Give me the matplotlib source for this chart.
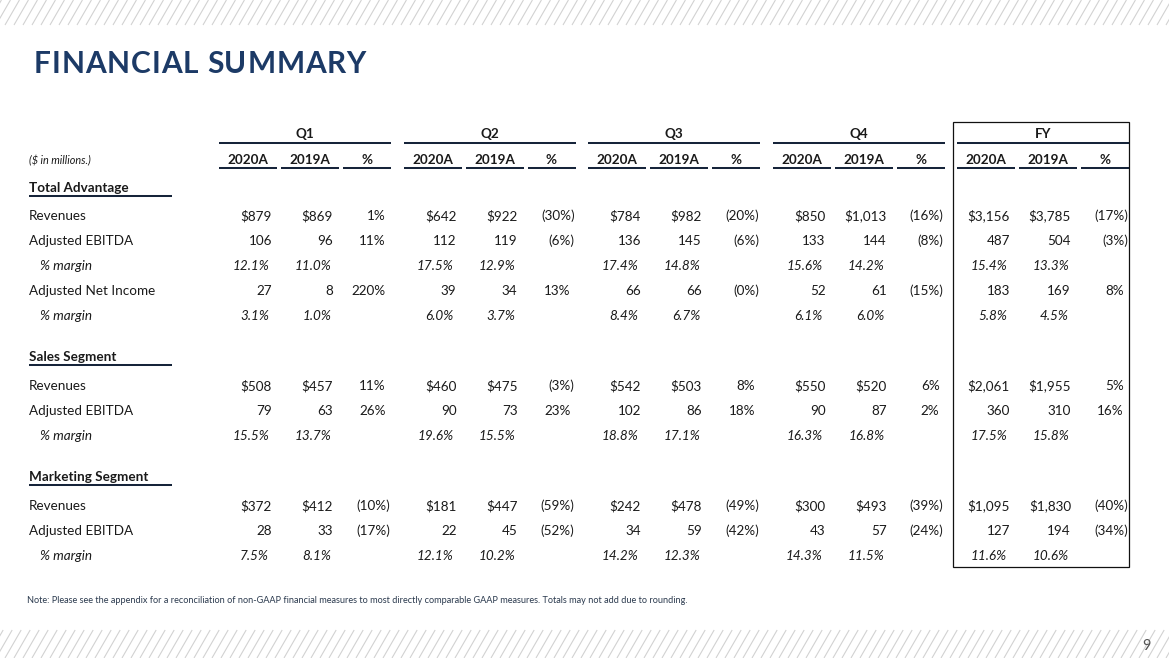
import numpy as np
import matplotlib
matplotlib.use("Agg")
import matplotlib.pyplot as plt
from matplotlib.patches import Rectangle
from matplotlib.collections import LineCollection

# ---------------- data ----------------
periods = ["Q1", "Q2", "Q3", "Q4", "FY"]
sub_headers = ["2020A", "2019A", "%"]

ta_rev_2020 = [879, 642, 784, 850, 3156]
ta_rev_2019 = [869, 922, 982, 1013, 3785]
ta_rev_pct = [1, -30, -20, -16, -17]
ta_ebitda_2020 = [106, 112, 136, 133, 487]
ta_ebitda_2019 = [96, 119, 145, 144, 504]
ta_ebitda_pct = [11, -6, -6, -8, -3]
ta_ebitda_margin_2020 = [12.1, 17.5, 17.4, 15.6, 15.4]
ta_ebitda_margin_2019 = [11.0, 12.9, 14.8, 14.2, 13.3]
ta_ani_2020 = [27, 39, 66, 52, 183]
ta_ani_2019 = [8, 34, 66, 61, 169]
ta_ani_pct = [220, 13, -0.0, -15, 8]
ta_ani_margin_2020 = [3.1, 6.0, 8.4, 6.1, 5.8]
ta_ani_margin_2019 = [1.0, 3.7, 6.7, 6.0, 4.5]

ss_rev_2020 = [508, 460, 542, 550, 2061]
ss_rev_2019 = [457, 475, 503, 520, 1955]
ss_rev_pct = [11, -3, 8, 6, 5]
ss_ebitda_2020 = [79, 90, 102, 90, 360]
ss_ebitda_2019 = [63, 73, 86, 87, 310]
ss_ebitda_pct = [26, 23, 18, 2, 16]
ss_margin_2020 = [15.5, 19.6, 18.8, 16.3, 17.5]
ss_margin_2019 = [13.7, 15.5, 17.1, 16.8, 15.8]

ms_rev_2020 = [372, 181, 242, 300, 1095]
ms_rev_2019 = [412, 447, 478, 493, 1830]
ms_rev_pct = [-10, -59, -49, -39, -40]
ms_ebitda_2020 = [28, 22, 34, 43, 127]
ms_ebitda_2019 = [33, 45, 59, 57, 194]
ms_ebitda_pct = [-17, -52, -42, -24, -34]
ms_margin_2020 = [7.5, 12.1, 14.2, 14.3, 11.6]
ms_margin_2019 = [8.1, 10.2, 12.3, 11.5, 10.6]

title = "FINANCIAL SUMMARY"
unit_note = "($ in millions.)"
footnote = ("Note: Please see the appendix for a reconciliation of non-GAAP financial measures "
            "to most directly comparable GAAP measures. Totals may not add due to rounding.")
page_number = "9"

# ---------------- formatting ----------------
def fmt_money(v):
    return f"${v:,}"

def fmt_num(v):
    return f"{v:,}"

def fmt_pct(v):
    if v < 0 or np.signbit(v):
        return f"({abs(v):.0f}%)"
    return f"{v:.0f}%"

def fmt_margin(v):
    return f"{v:.1f}%"

# rows: (kind, label, data)
rows = [
    ("section", "Total Advantage", None),
    ("value", "Revenues", (ta_rev_2020, ta_rev_2019, ta_rev_pct, fmt_money)),
    ("value", "Adjusted EBITDA", (ta_ebitda_2020, ta_ebitda_2019, ta_ebitda_pct, fmt_num)),
    ("margin", "% margin", (ta_ebitda_margin_2020, ta_ebitda_margin_2019)),
    ("value", "Adjusted Net Income", (ta_ani_2020, ta_ani_2019, ta_ani_pct, fmt_num)),
    ("margin", "% margin", (ta_ani_margin_2020, ta_ani_margin_2019)),
    ("section", "Sales Segment", None),
    ("value", "Revenues", (ss_rev_2020, ss_rev_2019, ss_rev_pct, fmt_money)),
    ("value", "Adjusted EBITDA", (ss_ebitda_2020, ss_ebitda_2019, ss_ebitda_pct, fmt_num)),
    ("margin", "% margin", (ss_margin_2020, ss_margin_2019)),
    ("section", "Marketing Segment", None),
    ("value", "Revenues", (ms_rev_2020, ms_rev_2019, ms_rev_pct, fmt_money)),
    ("value", "Adjusted EBITDA", (ms_ebitda_2020, ms_ebitda_2019, ms_ebitda_pct, fmt_num)),
    ("margin", "% margin", (ms_margin_2020, ms_margin_2019)),
]
row_y = [187, 215, 240, 265, 290, 315, 356, 385, 410, 435, 476, 505, 530, 555]

# ---------------- figure ----------------
W, H = 1169, 658
fig = plt.figure(figsize=(W / 100, H / 100), dpi=100)
ax = fig.add_axes([0, 0, 1, 1])
ax.set_xlim(0, W)
ax.set_ylim(H, 0)
ax.axis("off")

FONT = "Lato"
TXT = "#1a1a1a"
LINE = "#16243a"
NAVY = "#1c3a66"
LW = 1.45
DY = 1.2  # visual centring offset for text

# hatched bands
def band(y0, y1):
    step = 9.0
    dx = (y1 - y0) / np.tan(np.radians(60))
    segs = [[(x, y1), (x + dx, y0)] for x in np.arange(-40, W + 40, step)]
    lc = LineCollection(segs, colors="#d2d2d2", linewidths=0.8)
    lc.set_clip_path(Rectangle((0, y0), W, y1 - y0, transform=ax.transData))
    ax.add_collection(lc)

band(0, 25)
band(630, H)

# title with letter spacing
renderer = fig.canvas.get_renderer()
tsize = 21.5
def text_w(s):
    t = ax.text(0, 0, s + "I", fontsize=tsize, fontweight="bold", family=FONT)
    w = t.get_window_extent(renderer).width
    t.remove()
    t = ax.text(0, 0, "I", fontsize=tsize, fontweight="bold", family=FONT)
    w -= t.get_window_extent(renderer).width
    t.remove()
    return w
total = text_w(title)
target = 332
extra = (target - total) / (len(title) - 1)
x0 = 34
for i, ch in enumerate(title):
    if ch == " ":
        continue
    xi = x0 + text_w(title[:i]) + i * extra
    ax.text(xi, 64, ch, fontsize=tsize, fontweight="bold", family=FONT,
            color=NAVY, ha="left", va="center")

# column geometry
block_start = [219 + i * 184.5 for i in range(len(periods))]
BW = 172
sub_spans = [(0, 58), (62, 120), (124, 172)]

y_head, y_head_line = 133, 143
y_sub, y_sub_line = 159, 168

for b, p in zip(block_start, periods):
    ax.text(b + BW / 2, y_head + DY, p, ha="center", va="center", fontsize=9.7,
            fontweight="bold", family=FONT, color=TXT)
    ax.plot([b, b + BW], [y_head_line, y_head_line], color=LINE, lw=LW,
            solid_capstyle="butt")
    for (s0, s1), sh in zip(sub_spans, sub_headers):
        ax.text(b + (s0 + s1) / 2, y_sub + DY, sh, ha="center", va="center",
                fontsize=9.7, fontweight="bold", family=FONT, color=TXT)
        ax.plot([b + s0, b + s1], [y_sub_line, y_sub_line], color=LINE, lw=LW,
                solid_capstyle="butt")

ax.text(29, y_sub + DY, unit_note, ha="left", va="center", fontsize=7.8,
        style="italic", family=FONT, color=TXT)

# FY box
ax.add_patch(Rectangle((953, 122), 1129 - 953, 567 - 122, fill=False,
                       edgecolor="#111111", lw=0.9))

FS = 9.7
for (kind, label, data), y in zip(rows, row_y):
    yt = y + DY
    if kind == "section":
        ax.text(29, yt, label, ha="left", va="center", fontsize=FS,
                fontweight="bold", family=FONT, color=TXT)
        ax.plot([29, 172], [y + 9, y + 9], color=LINE, lw=LW, solid_capstyle="butt")
        continue
    if kind == "value":
        ax.text(29, yt, label, ha="left", va="center", fontsize=FS,
                family=FONT, color=TXT)
        v20, v19, pc, f = data
        for b, a, c, d in zip(block_start, v20, v19, pc):
            ax.text(b + 53, yt, f(a), ha="right", va="center", fontsize=FS,
                    family=FONT, color=TXT)
            ax.text(b + 114, yt, f(c), ha="right", va="center", fontsize=FS,
                    family=FONT, color=TXT)
            s = fmt_pct(d)
            xr = b + 171 if s.startswith("(") else b + 167
            ax.text(xr, yt, s, ha="right", va="center", fontsize=FS,
                    family=FONT, color=TXT)
    else:
        ax.text(40, yt, label, ha="left", va="center", fontsize=FS,
                style="italic", family=FONT, color=TXT)
        m20, m19 = data
        for b, a, c in zip(block_start, m20, m19):
            ax.text(b + 50, yt, fmt_margin(a), ha="right", va="center",
                    fontsize=FS, style="italic", family=FONT, color=TXT)
            ax.text(b + 112, yt, fmt_margin(c), ha="right", va="center",
                    fontsize=FS, style="italic", family=FONT, color=TXT)

ax.text(27, 599 + DY, footnote, ha="left", va="center", fontsize=6.55,
        family=FONT, color="#2b3a4e")
ax.text(1146, 646, page_number, ha="center", va="center", fontsize=10.5,
        family=FONT, color="#555555")

fig.savefig("out.png", dpi=100)
